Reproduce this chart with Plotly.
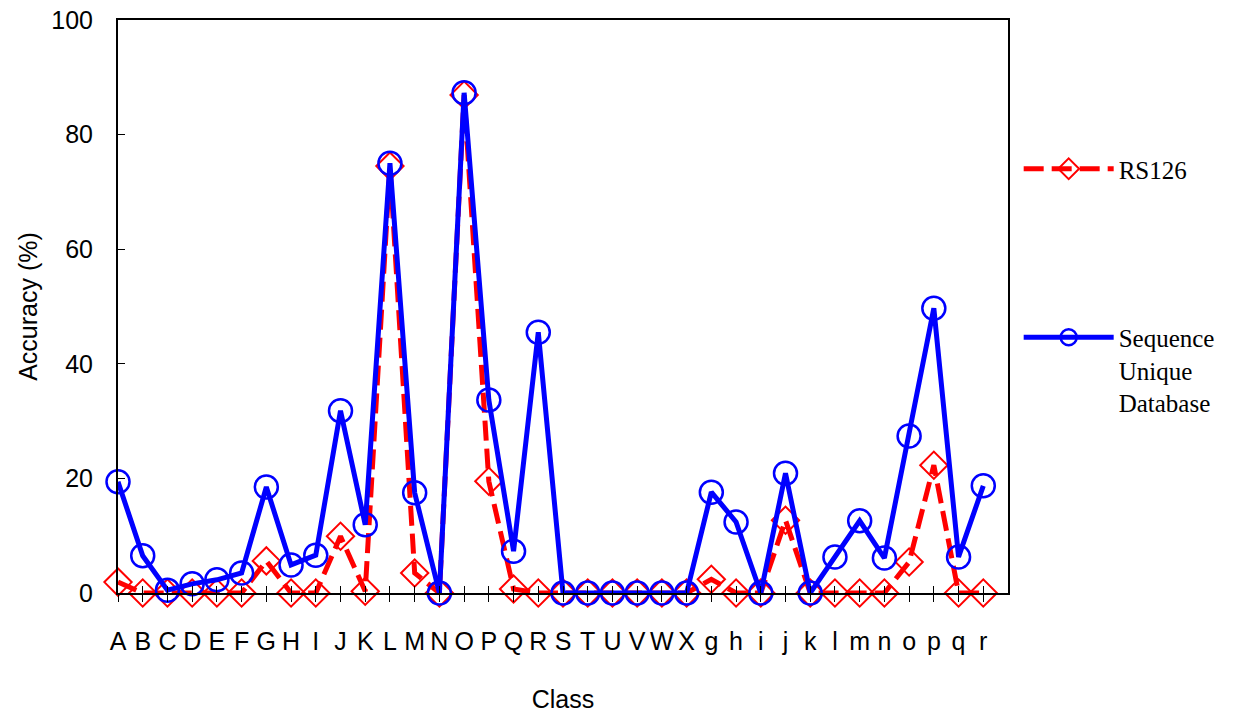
import plotly.graph_objects as go

classes = ["A","B","C","D","E","F","G","H","I","J","K","L","M","N","O","P","Q","R",
           "S","T","U","V","W","X","g","h","i","j","k","l","m","n","o","p","q","r"]
rs126 = [1.9,0,0,0,0,0,5.6,0,0,9.9,0.3,74.5,3.5,0,86.9,19.5,0.7,0,
         0,0,0,0,0,0,2.4,0,0,12.7,0,0,0,0,5.4,22.3,0,0]
seq_unique = [19.4,6.5,0.5,1.6,2.3,3.5,18.5,4.9,6.6,31.8,11.9,75.0,17.5,0,87.3,33.7,7.3,45.5,
              0,0,0,0,0,0,17.6,12.4,0,20.9,0,6.3,12.6,6.1,27.4,49.7,6.3,18.7]
y_ticks = [0, 20, 40, 60, 80, 100]

xpos = list(range(len(classes)))

fig = go.Figure()
fig.add_trace(go.Scatter(
    x=xpos, y=rs126, name="RS126", mode="lines+markers",
    line=dict(color="#ff0000", width=5, dash="20px,8px"),
    marker=dict(symbol="diamond-open", size=21, color="#ff0000", line=dict(width=2, color="#ff0000")),
    legendgroup="a", cliponaxis=False,
))
fig.add_trace(go.Scatter(
    x=xpos, y=seq_unique, name="Sequence<br>Unique<br>Database", mode="lines+markers",
    line=dict(color="#0000ff", width=5),
    marker=dict(symbol="circle-open", size=23, color="#0000ff", line=dict(width=2.5, color="#0000ff")),
    legendgroup="b", cliponaxis=False,
))

fig.update_layout(
    width=1238, height=718,
    margin=dict(l=118, r=230, t=20, b=125, autoexpand=False),
    plot_bgcolor="white", paper_bgcolor="white",
    font=dict(family="Liberation Sans, Arial, sans-serif", size=25, color="black"),
    xaxis=dict(
        range=[0, 36], tickmode="array", tickvals=xpos, ticktext=classes,
        ticks="outside", ticklen=7, tickwidth=1, tickcolor="black",
        showline=True, linewidth=2, linecolor="black", mirror=True,
        showgrid=False, zeroline=False, ticklabelstandoff=18,
        tickfont=dict(size=25),
        title=dict(text="Class", standoff=36, font=dict(size=25)),
    ),
    xaxis2=dict(
        range=[0, 36], tickmode="array", tickvals=xpos, ticktext=["" for _ in classes],
        overlaying="x", side="bottom", anchor="y",
        ticks="inside", ticklen=7, tickwidth=1, tickcolor="black",
        showline=False, showgrid=False, zeroline=False, showticklabels=False,
    ),
    yaxis=dict(
        range=[0, 100], tickmode="array", tickvals=y_ticks,
        ticks="inside", ticklen=7, tickwidth=1, tickcolor="black",
        showline=True, linewidth=2, linecolor="black", mirror=True,
        showgrid=False, zeroline=False, ticklabelstandoff=18,
        tickfont=dict(size=25),
        title=dict(text="Accuracy (%)", standoff=7, font=dict(size=25)),
    ),
    legend=dict(
        x=1.012, y=0.78, xanchor="left", yanchor="top",
        font=dict(family="Liberation Serif, Times New Roman, serif", size=25),
        tracegroupgap=133, traceorder="grouped", valign="top",
        itemwidth=90, bgcolor="rgba(0,0,0,0)",
    ),
    showlegend=True,
)
fig.add_trace(go.Scatter(x=[None], y=[None], xaxis="x2", showlegend=False, hoverinfo="skip"))

fig.write_html("out.html")
